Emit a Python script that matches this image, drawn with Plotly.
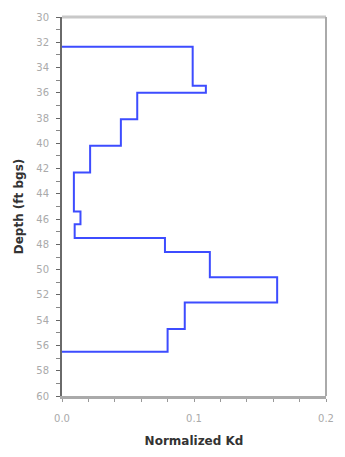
import plotly.graph_objects as go

# Depth boundaries (ft bgs) of each interval and the normalized Kd within it
depth_tops = [32.35, 35.45, 36.0, 38.1, 40.2, 42.3, 45.4, 46.4, 47.5, 48.6, 50.6, 52.6, 54.7, 56.5]
kd_values = [0.099, 0.109, 0.057, 0.0446, 0.0213, 0.009, 0.014, 0.0096, 0.078, 0.112, 0.163, 0.093, 0.080]

y_range = [60, 30]
x_range = [0, 0.2]

# Build step profile: start at x=0, one point per interval, return to x=0
xs = [0] + kd_values + [0]
ys = [depth_tops[0]] + depth_tops[1:] + [depth_tops[-1]]

fig = go.Figure()
fig.add_trace(go.Scatter(
    x=xs, y=ys, mode="lines", line_shape="hv",
    line=dict(color="#3d4cff", width=2), showlegend=False,
    hoverinfo="skip",
))

font = "DejaVu Sans, Verdana, sans-serif"

fig.update_layout(
    width=345, height=457,
    margin=dict(l=62, r=11, t=13, b=57),
    paper_bgcolor="white", plot_bgcolor="white",
    font=dict(family=font, color="#222"),
    xaxis=dict(
        range=x_range, tickvals=[0, 0.1, 0.2], ticktext=["0.0", "0.1", "0.2"],
        ticks="outside", ticklen=3, tickcolor="#999", tickwidth=1,
        minor=dict(dtick=0.02, ticks="outside", ticklen=3, tickcolor="#999"),
        showgrid=False, zeroline=False,
        showline=True, linecolor="#aaaaaa", linewidth=3,
        tickfont=dict(size=10, color="#aaa"),
        ticklabelstandoff=8,
        title=dict(text="<b>Normalized Kd</b>", font=dict(size=12, color="#333"), standoff=14),
    ),
    yaxis=dict(
        range=y_range, dtick=2, tick0=30,
        ticks="outside", ticklen=4, tickcolor="#666", tickwidth=1,
        minor=dict(dtick=1, ticks="outside", ticklen=4, tickcolor="#888"),
        showgrid=False, zeroline=False,
        showline=True, linecolor="#6a6a6a", linewidth=2,
        tickfont=dict(size=10, color="#aaa"),
        ticklabelstandoff=5,
        title=dict(text="<b>Depth (ft bgs)</b>", font=dict(size=12, color="#333"), standoff=10),
    ),
    shapes=[
        dict(type="line", xref="paper", yref="paper", x0=0, x1=1, y0=1, y1=1,
             line=dict(color="#c8c8c8", width=3)),
        dict(type="line", xref="paper", yref="paper", x0=1, x1=1, y0=0, y1=1,
             line=dict(color="#aaaaaa", width=2)),
    ],
)

fig.write_html("out.html")
